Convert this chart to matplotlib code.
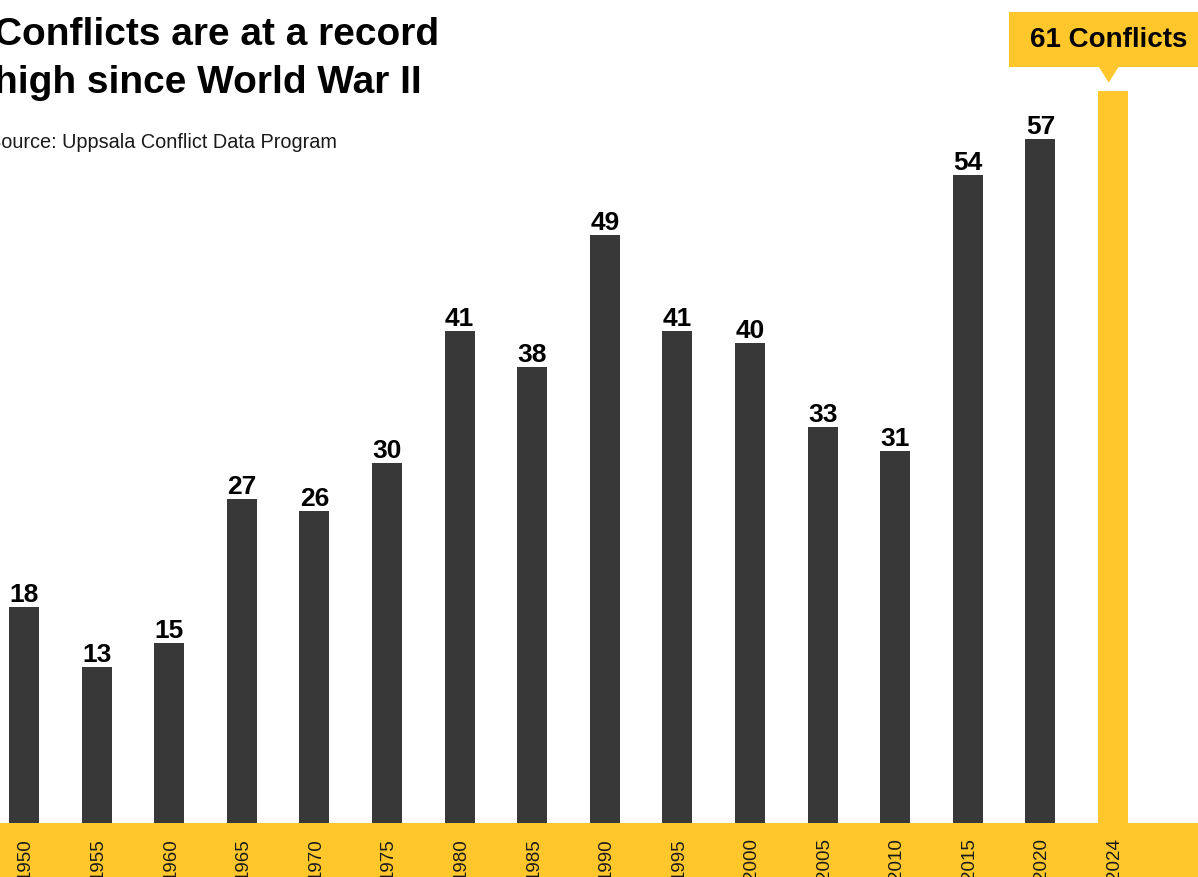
import matplotlib.pyplot as plt
from matplotlib.patches import Rectangle, Polygon
from matplotlib import transforms

plt.rcParams['font.family'] = ['Liberation Sans', 'DejaVu Sans']

years = ['1950', '1955', '1960', '1965', '1970', '1975', '1980', '1985',
         '1990', '1995', '2000', '2005', '2010', '2015', '2020', '2024']
conflicts = [18, 13, 15, 27, 26, 30, 41, 38, 49, 41, 40, 33, 31, 54, 57, 61]

dark = '#383838'
yellow = '#FFC72C'

W, H = 1198, 877
fig = plt.figure(figsize=(W / 100, H / 100), dpi=100)

# yellow strip along the bottom
fig.patches.append(Rectangle((0, 0), 1, 54 / H, transform=fig.transFigure,
                             facecolor=yellow, edgecolor='none', zorder=-1))

ax = fig.add_axes([0, 54 / H, 1, 823 / H])
ax.set_xlim(-0.331, 16.17)
ax.set_ylim(0, 823 / 12)
ax.axis('off')

x = list(range(len(years)))
colors = [dark] * (len(years) - 1) + [yellow]
ax.bar(x, conflicts, width=0.413, color=colors, zorder=2)

# value labels (not on the highlighted last bar)
for i, v in enumerate(conflicts[:-1]):
    ax.text(i, v + 5 / 12, str(v), ha='center', va='baseline',
            fontsize=19, fontweight='bold', color='black')

# year labels in the strip
trans = transforms.blended_transform_factory(ax.transData, fig.transFigure)
for i, yr in enumerate(years):
    ax.text(i + 0.02, 1 - 838 / H, yr, transform=trans, rotation=90,
            ha='center', va='top', fontsize=13.5, color='#1a1a1a',
            clip_on=False, zorder=5)

# callout box for the last bar
last = len(years) - 1
ax.add_patch(Rectangle((13.57, 63.0), 3.0, 4.6, facecolor=yellow,
                       edgecolor='none', clip_on=False))
ax.add_patch(Polygon([[last - 0.2, 63.05], [last + 0.08, 63.05],
                      [last - 0.06, 61.7]], closed=True,
                     facecolor=yellow, edgecolor='none', clip_on=False))
fig.text(1030 / W, 1 - 40 / H, f'{conflicts[-1]} Conflicts', ha='left',
         va='center', fontsize=20, fontweight='bold', color='black')

# title and source
fig.text(-6 / W, 1 - 45 / H, 'Conflicts are at a record', ha='left',
         va='baseline', fontsize=28, fontweight='bold', color='black')
fig.text(-6 / W, 1 - 93 / H, 'high since World War II', ha='left',
         va='baseline', fontsize=28, fontweight='bold', color='black')
fig.text(-12 / W, 1 - 148 / H, 'Source: Uppsala Conflict Data Program',
         ha='left', va='baseline', fontsize=14.3, color='#1a1a1a')

fig.savefig('out.png', dpi=100)
